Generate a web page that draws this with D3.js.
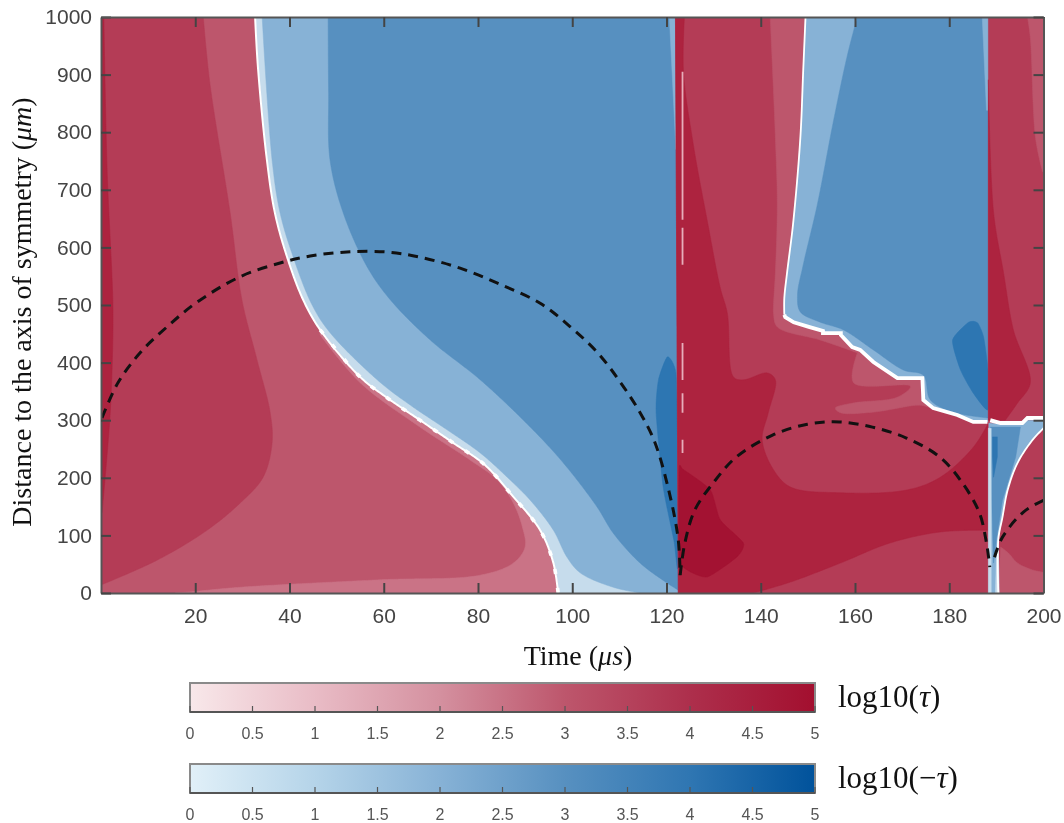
<!DOCTYPE html>
<html><head><meta charset="utf-8">
<script src="https://cdnjs.cloudflare.com/ajax/libs/d3/7.8.5/d3.min.js"></script>
<style>html,body{margin:0;padding:0;background:#fff}svg{display:block;filter:blur(0.45px)}</style>
</head><body><svg id="c" width="1064" height="823"></svg>
<script>
// axis ticks
const xTicks=[20,40,60,80,100,120,140,160,180,200];
const yTicks=[0,100,200,300,400,500,600,700,800,900,1000];
const barTicks=[0,0.5,1,1.5,2,2.5,3,3.5,4,4.5,5];
const barTickLabels=["0","0.5","1","1.5","2","2.5","3","3.5","4","4.5","5"];
// colourbar stops (level 0..5)
const redStops=["#f8e8ea","#e9bcc6","#d4909f","#bd566c","#ad2f4c","#a30f2f"];
const blueStops=["#e1f0f8","#b5d4e9","#87b2d6","#5790c0","#2f76b2","#00529b"];
// contour band colours
const R25="#ca7386",R3="#bd566c",R35="#b43c56",R4="#ad233f",R5="#a31232";
const B1="#c6dcec",B2="#87b2d6",B3="#5790c0",B4="#2d76b2";
// boundaries [time, distance]
const whiteLeft=[[32.7,1000],[33.3,913],[35.2,752],[36.9,660],[39.5,583],[42.9,509],[46.5,457],[55,375],[60.7,339],[67.7,300],[74.5,262],[81.5,222],[87.5,167],[93.2,109],[96,52],[97,0]];
const paleLeft=[[34.2,1000],[36.3,752],[38,660],[40.8,583],[44.8,500],[48.6,452],[59.2,366],[66.2,323],[73.5,283],[80.5,243],[86.2,201],[91.1,161],[96,109],[98.9,62],[101.7,35],[108.7,10],[114.4,0]];
const midLeft=[[48.2,1000],[48.3,870],[48.6,752],[51.4,660],[56.5,566],[61.4,509],[69.9,439],[80.5,370],[91.1,288],[98.1,226],[105.3,149],[108.7,104],[114.4,52],[120.2,17],[122.5,5]];
const red35LeftEdge=[[21.7,1000],[23.1,885],[27.4,660],[29.9,509],[33.1,405],[35.9,313],[36.3,260],[34.4,201],[29.5,156],[22.5,109],[11.9,57],[0,14]];
const red4Strip=[[0,1000],[0.6,1000],[1.3,734],[2.5,509],[2.5,439],[1.9,306],[0.2,139],[0,139]];
const red25Inner=[[46.5,448],[55,365],[67.7,288],[78.3,231],[84.1,196],[87.5,156],[89.4,115],[90,80],[87.5,52],[80.5,31],[59.2,23],[29.5,10],[18.9,2],[15.7,0]];
const blobLeft=[[120.2,410],[118.3,370],[117.8,313],[119.3,184],[121.6,90],[122.4,45],[122.4,250],[122,382]];
const paleTopLeft=[[120.6,1000],[121.9,1000],[122,770]];
const whiteMidUpper=[[149.5,1000],[149,905],[148.4,790],[146.9,644],[145.6,557],[145,512],[145,483]];
const whiteMidStairs=[[145,483],[145.2,479],[147,470],[150.2,462],[153.2,455],[153.2,451],[157,451],[157,448],[159.4,427],[161.1,422],[163.9,401],[169,373],[174.3,373],[174.5,335],[176.6,321],[181.7,309],[185.1,297],[188.1,297]];
const midRight=[[160.5,1000],[158.4,934],[155.4,818],[152,674],[149,569],[147.8,517],[148.4,488],[152.7,470],[157.5,457],[163.9,422],[170.3,387],[174.5,378],[176,335],[180.9,314],[188.1,304]];
const blobRight=[[184.1,470],[180.7,439],[182.4,387],[185.1,347],[188.2,318],[188.3,382],[187.3,444],[186,469]];
const paleTopRight=[[187,1000],[188.3,1000],[188.3,838],[187.9,838]];
const red35Mid=[[121.9,1000],[188.3,1000],[188.3,0],[122.5,0]];
const red3MidStrip=[[142,1000],[143.1,790],[143.5,674],[143.1,557],[142.7,500],[142.7,486],[143.5,462],[152.7,439],[160.5,417]];
const red3MidTongue=[[160.5,417],[159.7,365],[171.8,359],[169,340],[159.7,330],[155.8,321],[156.9,313],[163.9,314],[173.9,326],[176,321]];
const red4MidTop=[[123.8,1000],[123.6,905],[125.7,778],[128.7,644],[131.4,530],[132.9,486],[134.2,375],[136.3,370],[141.4,382],[143.1,370],[141.6,313],[140.3,266],[142.7,214],[146.3,184],[156.9,174],[171.1,179],[178.1,201],[185.1,253],[188.3,295]];
const red4MidLow=[[188.3,109],[178.1,106],[167.5,87],[156.9,52],[146.3,19],[138.4,0]];
const red5Mid=[[122.7,214],[123.6,214],[129.3,179],[131.4,127],[136.3,87],[135,63],[128.7,28],[124.4,40],[122.7,63]];
const red35Right=[[188.3,1000],[200,1000],[200,0],[188.3,0]];
const red4Right=[[188.3,891],[189.4,661],[191.5,557],[193.6,457],[197.2,365],[194.5,330],[191.9,300]];
const red3TopRight=[[196.6,1000],[197.2,964],[198.3,790],[199.8,731]];
const red3BottomRight=[[190.9,80],[192.6,69],[194.5,52],[197.7,40],[200,36]];
const whiteTopRight=[[188.7,300],[190.9,295],[195.5,295],[196.6,304],[200,304]];
const whiteWedge=[[200,286],[197.7,266],[194.5,226],[192.4,179],[191.3,132],[190.4,92],[190.4,0]];
const wedgeMid=[[188.4,295],[190.9,293],[195.5,293],[196.6,300],[200,300],[200,286]];
const wedgeB3=[[188.7,288],[195.1,288],[194.1,236],[191.3,161],[190,92],[189.4,52],[189,161]];
const wedgeB4=[[189.2,271],[190.2,271],[190.2,236],[189.4,201],[189.2,236]];
const wedgePaleLeft=[[188.3,286],[188.9,286],[188.9,0],[188.3,0]];
const wedgePaleRight=[[189.8,0],[190.6,0],[190.4,92],[190,57]];
// pale dashes along the first sign change [from,to] in distance
const paleDashes=[[905,648],[634,570],[434,370],[347,313],[266,243]];
const paleDashTime=123.4;
// dashed envelope curves
const curveA=[[0.2,304],[3.6,365],[8.3,417],[14,462],[20.4,505],[29.5,549],[38,573],[44.4,585],[52.2,592],[60.7,592],[67.7,583],[76.2,564],[84.7,536],[93.2,503],[99.6,462],[105.3,418],[110.2,366],[114.4,313],[117.6,260],[120.8,167],[122.5,92],[122.9,31]];
const curveB=[[122.9,31],[123.9,87],[126,144],[129.9,191],[134.8,236],[142.5,274],[149.9,293],[156.7,297],[163.7,288],[170.9,269],[178,236],[182.8,191],[186.4,139],[187.9,87],[188.6,45]];
const curveC=[[189.6,62],[191.3,97],[195.8,141],[200,161]];

const svg=d3.select("#c");
const L=101,R=1043.5,T=17,B=593;
const x=d3.scaleLinear().domain([0,200]).range([L,R]);
const y=d3.scaleLinear().domain([0,1000]).range([B,T]);
const defs=svg.append("defs");
defs.append("clipPath").attr("id","plot").append("rect").attr("x",L).attr("y",T).attr("width",R-L).attr("height",B-T);
const plot=svg.append("g").attr("clip-path","url(#plot)");
const poly=d3.line().x(d=>x(d[0])).y(d=>y(d[1])).curve(d3.curveLinearClosed);
const blob=d3.line().x(d=>x(d[0])).y(d=>y(d[1])).curve(d3.curveCardinalClosed.tension(0.4));
const open=d3.line().x(d=>x(d[0])).y(d=>y(d[1]));
const smooth=d3.line().x(d=>x(d[0])).y(d=>y(d[1])).curve(d3.curveCatmullRom.alpha(0.5));
// resample an open boundary along its spline, still in data units
function sm(pts){
 const p=document.createElementNS("http://www.w3.org/2000/svg","path");
 p.setAttribute("d",smooth(pts));
 const n=p.getTotalLength(),out=[];
 for(let s=0;s<n;s+=2){const q=p.getPointAtLength(s);out.push([x.invert(q.x),y.invert(q.y)]);}
 out.push(pts[pts.length-1]);
 return out;
}
function fill(pts,c,gen){plot.append("path").attr("d",(gen||poly)(pts)).attr("fill",c).attr("stroke",c).attr("stroke-width",0.5);}
const rev=a=>a.slice().reverse();
const whiteLeftS=sm(whiteLeft),whiteMidS=sm(whiteMidUpper).concat(whiteMidStairs),whiteWedgeS=sm(whiteWedge);
// left blue
fill(whiteLeftS.concat([[122.5,0],[122.2,1000]]),B1);
fill(sm(paleLeft).concat([[122.5,0],[122.2,1000]]),B2);
fill(sm(midLeft).concat([[122.2,1000]]),B3);
fill(blobLeft,B4,blob);
fill(paleTopLeft,B2);
// left red
fill([[0,0],[0,1000]].concat(whiteLeftS),R3);
fill([[0,1000]].concat(sm(red35LeftEdge)),R35);
fill(sm(red4Strip.slice(1,7)).concat([[0,139],[0,1000]]),R4);
fill(sm(red25Inner).concat(rev(sm(whiteLeft.slice(6)))),R25);
// middle red
fill(red35Mid,R35);
fill(sm(red3MidStrip).concat(sm(red3MidTongue),rev(sm(whiteMidUpper).concat(whiteMidStairs.slice(0,14)))),R3);
fill([[121.9,1000]].concat(sm(red4MidTop),sm(red4MidLow),[[122.5,0]]),R4);
fill(red5Mid,R5,blob);
// middle blue
fill(whiteMidS.concat([[188.3,297],[188.3,1000]]),B2);
fill(sm(midRight).concat([[188.3,304],[188.3,1000]]),B3);
fill(blobRight,B4,blob);
fill(paleTopRight,B2);
// right panel
fill(red35Right,R35);
fill(sm(red4Right).concat([[188.3,300]]),R4);
fill(sm(red3TopRight).concat([[200,731],[200,1000]]),R3);
fill(sm(red3BottomRight).concat([[200,0],[190.4,0]]),R3);
fill(wedgeMid.concat(whiteWedgeS,[[188.4,0]]),B2);
fill(wedgeB3,B3);
fill(wedgeB4,B4);
fill(wedgePaleLeft,B1);
fill(wedgePaleRight,B1);
// white edges: thin line, with heavier blocks where the grid steps show
const edge=(pts,w,dash)=>plot.append("path").attr("d",open(pts)).attr("fill","none").attr("stroke","#fff").attr("stroke-width",w).attr("stroke-dasharray",dash||null);
edge(whiteLeftS,2);
edge(sm(whiteLeft.slice(6)),3.6,"5 14");
edge(sm(whiteMidUpper),1.8);
edge(whiteMidStairs,3.8);
edge(whiteTopRight,4);
edge(whiteWedgeS,1.8);
plot.selectAll("line.pd").data(paleDashes).join("line").attr("class","pd")
 .attr("x1",x(paleDashTime)).attr("x2",x(paleDashTime)).attr("y1",d=>y(d[0])).attr("y2",d=>y(d[1]))
 .attr("stroke","#e6aebb").attr("stroke-width",1.8);
// envelopes
[curveA,curveB,curveC].forEach(c=>{
 plot.append("path").attr("d",smooth(c)).attr("fill","none").attr("stroke","#111")
  .attr("stroke-width",3).attr("stroke-dasharray","10 7");
});
// frame and axes
const axCol="#444";
function style(g,labels){
 g.selectAll(".domain").attr("stroke","#555").attr("stroke-width",2);
 g.selectAll(".tick line").attr("stroke",axCol).attr("stroke-width",2);
 g.selectAll("text").attr("fill",axCol).style("font-family","'Liberation Sans',Arial,sans-serif").style("font-size","21px");
 if(!labels) g.selectAll("text").remove();
}
const gb=svg.append("g").attr("transform",`translate(0,${B})`).call(d3.axisBottom(x).tickValues(xTicks).tickSizeInner(-10).tickSizeOuter(0).tickPadding(15));
style(gb,true);
const gl=svg.append("g").attr("transform",`translate(${L},0)`).call(d3.axisLeft(y).tickValues(yTicks).tickFormat(d3.format("d")).tickSizeInner(-10).tickSizeOuter(0).tickPadding(9));
style(gl,true);
const gt=svg.append("g").attr("transform",`translate(0,${T})`).call(d3.axisTop(x).tickValues(xTicks).tickSizeInner(-10).tickSizeOuter(0));
style(gt,false);
const gr=svg.append("g").attr("transform",`translate(${R},0)`).call(d3.axisRight(y).tickValues(yTicks).tickSizeInner(-10).tickSizeOuter(0));
style(gr,false);
// axis titles
const serif="'Liberation Serif','Times New Roman',serif";
const xt=svg.append("text").attr("x",578).attr("y",665).attr("text-anchor","middle").attr("fill","#111")
 .style("font-family",serif).style("font-size","28px");
xt.append("tspan").text("Time (");xt.append("tspan").attr("font-style","italic").text("μs");xt.append("tspan").text(")");
const yt=svg.append("text").attr("transform","translate(31,312) rotate(-90)").attr("text-anchor","middle").attr("fill","#111")
 .style("font-family",serif).style("font-size","28px");
yt.append("tspan").text("Distance to the axis of symmetry (");yt.append("tspan").attr("font-style","italic").text("μm");yt.append("tspan").text(")");
// colourbars
const bx=d3.scaleLinear().domain([0,5]).range([190,815]);
function colorbar(id,stops,top,label){
 const H=29;
 const g=defs.append("linearGradient").attr("id",id);
 stops.forEach((c,i)=>g.append("stop").attr("offset",(i/(stops.length-1)*100)+"%").attr("stop-color",c));
 svg.append("rect").attr("x",bx(0)).attr("y",top).attr("width",bx(5)-bx(0)).attr("height",H)
  .attr("fill",`url(#${id})`).attr("stroke","#8a8a8a").attr("stroke-width",2);
 svg.append("line").attr("x1",bx(0)).attr("x2",bx(5)).attr("y1",top+H).attr("y2",top+H).attr("stroke","#555").attr("stroke-width",2);
 svg.selectAll("line."+id).data(barTicks).join("line").attr("class",id)
  .attr("x1",d=>bx(d)).attr("x2",d=>bx(d)).attr("y1",top+H-6).attr("y2",top+H).attr("stroke","#555").attr("stroke-width",1.2);
 svg.selectAll("text."+id).data(barTicks).join("text").attr("class",id)
  .attr("x",d=>bx(d)).attr("y",top+H+27).attr("text-anchor","middle").attr("fill","#555")
  .style("font-family","'Liberation Sans',Arial,sans-serif").style("font-size","16px")
  .text((d,i)=>barTickLabels[i]);
 const t=svg.append("text").attr("x",838).attr("y",top+24).attr("fill","#111")
  .style("font-family",serif).style("font-size","31px");
 t.append("tspan").text(label[0]);t.append("tspan").attr("font-style","italic").text("τ");t.append("tspan").text(")");
}
colorbar("cbRed",redStops,683,["log10("]);
colorbar("cbBlue",blueStops,764,["log10(−"]);
</script></body></html>
